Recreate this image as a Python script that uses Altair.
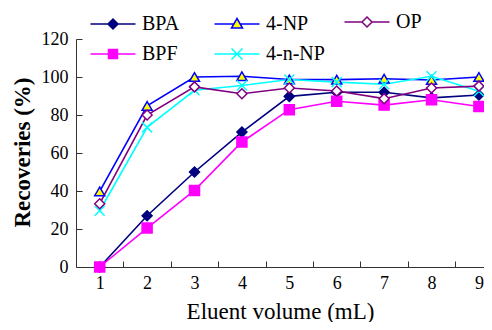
import altair as alt
import pandas as pd

# ---- data ----
volumes = [1, 2, 3, 4, 5, 6, 7, 8, 9]
series_names = ["BPA", "BPF", "4-NP", "4-n-NP", "OP"]
bpa = [0.0, 27.0, 50.0, 71.0, 89.8, 92.0, 92.0, 89.0, 90.5]
bpf = [0.0, 20.5, 40.3, 65.8, 82.8, 87.2, 85.2, 88.0, 84.5]
np4 = [39.8, 84.8, 100.0, 100.4, 98.7, 98.6, 99.1, 98.4, 100.0]
nnp = [29.6, 73.5, 93.0, 95.5, 98.7, 97.3, 96.2, 100.4, 92.5]
op = [33.3, 80.0, 94.8, 91.2, 94.2, 92.6, 88.6, 94.2, 95.2]

y_ticks = [0, 20, 40, 60, 80, 100, 120]
x_ticks = volumes

# ---- styles (same order as series_names) ----
line_colors = ["#000080", "#ff00ff", "#0000ff", "#00ffff", "#800080"]
fill_colors = ["#000080", "#ff00ff", "#ffff00", "#00ffff", "#ffffff"]
marker_shapes = ["diamond", "square", "triangle-up",
                 "M-1,-1L1,1M-1,1L1,-1", "diamond"]
legend_shapes = [
    "M-4.5,0L-1,0M1,0L4.5,0M-1,0L0,-1L1,0L0,1Z",
    "M-4.5,0L-0.9,0M0.9,0L4.5,0M-0.9,-0.9L0.9,-0.9L0.9,0.9L-0.9,0.9Z",
    "M-4.5,0L-0.6,0M0.6,0L4.5,0M0,-1.1L1.1,0.8L-1.1,0.8Z",
    "M-4.5,0L4.5,0M-1.1,-1.1L1.1,1.1M-1.1,1.1L1.1,-1.1",
    "M-4.5,0L-1,0M1,0L4.5,0M-1,0L0,-1L1,0L0,1Z",
]

rows = []
for name, vals in zip(series_names, [bpa, bpf, np4, nnp, op]):
    for v, r in zip(volumes, vals):
        rows.append({"volume": v, "recovery": r, "series": name})
df = pd.DataFrame(rows)

W, H = 408, 228
XMAX = 9.107
half = W / (XMAX - 0.5) / 2
FONT = "Liberation Serif"
AX = "#333333"

x_enc = alt.X(
    "volume:Q",
    scale=alt.Scale(domain=[0.5, XMAX], nice=False, zero=False),
    axis=alt.Axis(values=x_ticks, title="Eluent volume (mL)", ticks=False,
                  tickSize=0, grid=True, gridDash=[6, H - 6],
                  gridDashOffset=6, gridColor=AX,
                  gridWidth=1, tickOffset=half, labelOffset=-half,
                  labelPadding=7, labelFont=FONT, labelFontSize=18,
                  labelColor="black", titleFont=FONT, titleFontSize=23,
                  titleFontWeight="normal", titleColor="black",
                  titleBaseline="alphabetic", titleY=51, domainColor=AX),
)
y_enc = alt.Y(
    "recovery:Q",
    scale=alt.Scale(domain=[0, 120], nice=False),
    axis=alt.Axis(values=y_ticks, title="Recoveries (%)", ticks=False,
                  tickSize=0, grid=True, gridDash=[6, 3000], gridColor=AX,
                  gridWidth=1, labelPadding=8, labelFont=FONT,
                  labelFontSize=18, labelColor="black", titleFont=FONT,
                  titleFontSize=23, titleFontWeight="bold",
                  titleColor="black", titleBaseline="alphabetic",
                  titleX=-47, titleY=113, titleAlign="center",
                  domainColor=AX),
)

base = alt.Chart(df).encode(x=x_enc, y=y_enc)
order = alt.Order("volume:Q")

lines = base.mark_line(strokeWidth=1.6).encode(
    stroke=alt.Stroke("series:N", scale=alt.Scale(domain=series_names, range=line_colors), legend=None),
    detail="series:N",
    order=order,
)

points = base.mark_point(size=100, strokeWidth=1.5, opacity=1).encode(
    shape=alt.Shape("series:N", scale=alt.Scale(domain=series_names, range=marker_shapes), legend=None),
    fill=alt.Fill("series:N", scale=alt.Scale(domain=series_names, range=fill_colors), legend=None),
    stroke=alt.Stroke("series:N", scale=alt.Scale(domain=series_names, range=line_colors), legend=None),
)


def legend_layer(names, lx, ly, cols):
    idx = [series_names.index(n) for n in names]
    leg = alt.Legend(orient="none", legendX=lx, legendY=ly, columns=cols,
                     title=None, symbolSize=100, symbolStrokeWidth=1.5,
                     symbolOpacity=1, labelFont=FONT, labelFontSize=20,
                     labelColor="black", labelOffset=19, columnPadding=31,
                     rowPadding=10, padding=0)
    return base.mark_point(size=100, opacity=0, filled=True).encode(
        shape=alt.Shape("series:N", scale=alt.Scale(domain=names, range=[legend_shapes[i] for i in idx]), legend=leg),
        fill=alt.Fill("series:N", scale=alt.Scale(domain=names, range=[fill_colors[i] for i in idx]), legend=leg),
        stroke=alt.Stroke("series:N", scale=alt.Scale(domain=names, range=[line_colors[i] for i in idx]), legend=leg),
    ).transform_filter(alt.FieldOneOfPredicate(field="series", oneOf=names))


legend_a = legend_layer(series_names[:4], 27, -25, 2)
legend_b = legend_layer(series_names[4:], 281, -27, 1)

chart = alt.layer(lines, points, legend_a, legend_b).resolve_scale(
    shape="independent", fill="independent", stroke="independent"
).properties(
    width=W, height=H,
    autosize=alt.AutoSizeParams(type="none"),
    padding={"left": 68, "top": 31, "right": 0, "bottom": 55},
    background="white",
).configure_view(stroke=None)

chart.save("out.html", embed_options={"renderer": "svg", "actions": False})
